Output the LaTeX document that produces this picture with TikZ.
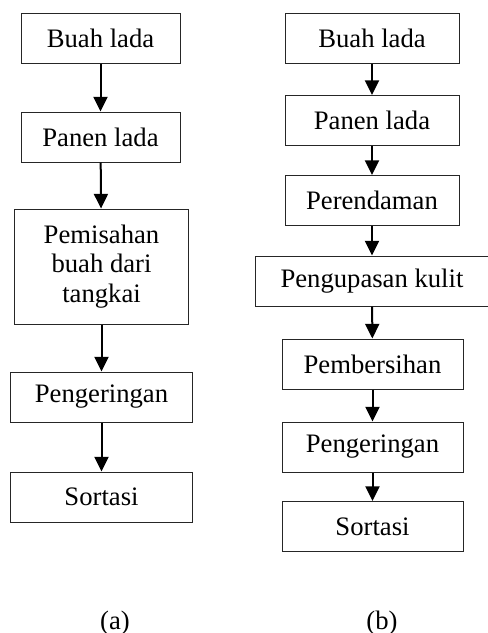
\documentclass[tikz,border=0pt]{standalone}
\usepackage{fontspec}
\setmainfont{Liberation Serif}
\usetikzlibrary{arrows.meta}
\tikzset{
  stepbox/.style={draw=black!85, line width=0.75pt, rectangle, inner sep=0pt,
    minimum height=37.5pt, align=center, font=\fontsize{20}{22}\selectfont},
  flow/.style={line width=1.5pt, -{Triangle[width=10.5pt,length=11pt]}},
  caption/.style={anchor=base, inner sep=0pt, font=\fontsize{20}{22}\selectfont}
}
\begin{document}
\begin{tikzpicture}[x=0.75pt,y=-0.75pt]
\useasboundingbox (0,0) rectangle (487,633);

% (a)
\node[stepbox, minimum width=119.25pt] (a1) at (100.5,38) {Buah lada};
\node[stepbox, minimum width=119.25pt] (a2) at (100.5,137) {Panen lada};
\node[stepbox, minimum width=130.5pt, minimum height=86.25pt] (a3) at (101.5,266.5) {Pemisahan\\buah dari\\tangkai};
\node[stepbox, minimum width=136.5pt] (a4) at (101.5,397) {Pengeringan};
\node[stepbox, minimum width=136.5pt] (a5) at (101.5,497) {Sortasi};

\draw[flow] (a1) -- (a2);
\draw[flow] (a2) -- (a3);
\draw[flow] (a3) -- (a4);
\draw[flow] (a4) -- (a5);

% (b)
\node[stepbox, minimum width=130.5pt] (b1) at (372,38) {Buah lada};
\node[stepbox, minimum width=130.5pt] (b2) at (372,120.5) {Panen lada};
\node[stepbox, minimum width=130.5pt] (b3) at (372,200.5) {Perendaman};
\node[stepbox, minimum width=175.5pt] (b4) at (372,281) {Pengupasan kulit};
\node[stepbox, minimum width=135.75pt] (b5) at (372.5,364) {Pembersihan};
\node[stepbox, minimum width=135.75pt] (b6) at (372.5,447) {Pengeringan};
\node[stepbox, minimum width=135.75pt] (b7) at (372.5,526.5) {Sortasi};

\draw[flow] (b1) -- (b2);
\draw[flow] (b2) -- (b3);
\draw[flow] (b3) -- (b4);
\draw[flow] (b4) -- (b5);
\draw[flow] (b5) -- (b6);
\draw[flow] (b6) -- (b7);

\node[caption] (capa) at (115,629) {(a)};
\node[caption] (capb) at (382,629) {(b)};
\end{tikzpicture}
\end{document}
